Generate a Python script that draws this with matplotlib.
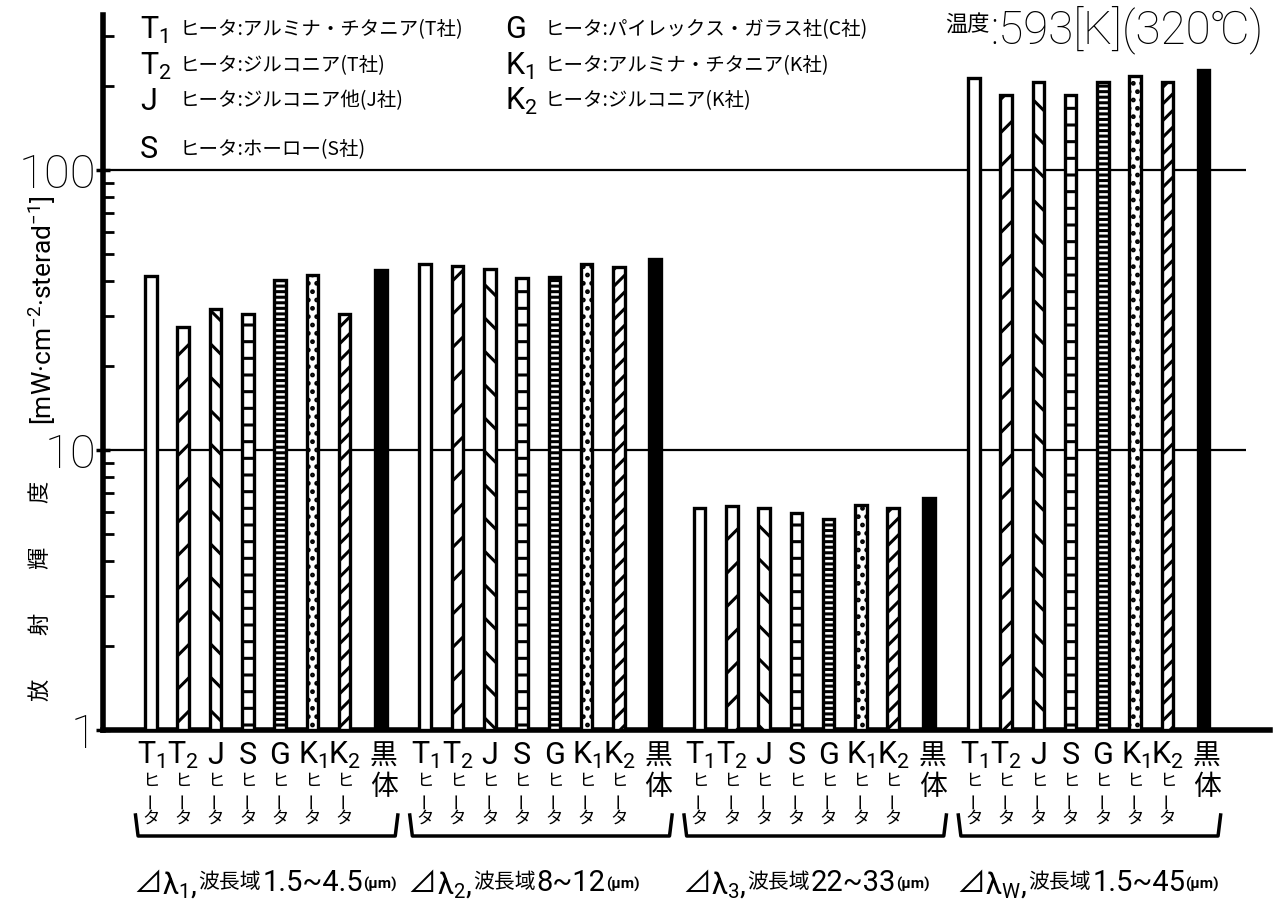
import matplotlib
matplotlib.use('Agg')
import matplotlib.pyplot as plt
import matplotlib.transforms as mtransforms
from matplotlib.ticker import LogLocator, FixedLocator, NullFormatter, FixedFormatter

plt.rcParams['mathtext.fontset'] = 'custom'
plt.rcParams['mathtext.rm'] = 'Roboto'
plt.rcParams['mathtext.it'] = 'Roboto'
plt.rcParams['mathtext.bf'] = 'Roboto:bold'
plt.rcParams['hatch.linewidth'] = 2.2
plt.rcParams['font.family'] = ['Roboto', 'Noto Sans CJK JP', 'DejaVu Sans']

LAT = ['Roboto', 'Noto Sans CJK JP', 'DejaVu Sans']
JP = ['Noto Sans CJK JP', 'DejaVu Sans']

# ---------------- data ----------------
heater_codes = ['T$_1$', 'T$_2$', 'J', 'S', 'G', 'K$_1$', 'K$_2$']
heater_desc = ['ヒータ:アルミナ・チタニア(T社)', 'ヒータ:ジルコニア(T社)',
               'ヒータ:ジルコニア他(J社)', 'ヒータ:ホーロー(S社)',
               'ヒータ:パイレックス・ガラス社(C社)', 'ヒータ:アルミナ・チタニア(K社)',
               'ヒータ:ジルコニア(K社)']
heater_word = ['ヒ', 'ー', 'タ']
blackbody_word = ['黒', '体']
band_subs = ['1', '2', '3', 'W']
band_ranges = ['1.5~4.5', '8~12', '22~33', '1.5~45']
band_unit = '(μm)'
band_word = '波長域'
temp_label = '温度'
temp_value = ':593[K](320℃)'
ylabel_unit = '[mW·cm$^{-2}$·sterad$^{-1}$]'
ylabel_chars = ['放', '射', '輝', '度']

vals_band1 = [41.7, 27.5, 32.0, 30.7, 40.6, 42.3, 30.7, 44.1]
vals_band2 = [46.0, 45.6, 44.5, 41.0, 41.4, 46.0, 45.2, 48.3]
vals_band3 = [6.22, 6.32, 6.22, 5.97, 5.68, 6.37, 6.22, 6.75]
vals_band4 = [214, 186, 207, 186, 207, 217, 207, 228]
all_vals = [vals_band1, vals_band2, vals_band3, vals_band4]

yticks = [1, 10, 100]
ytick_labels = ['1', '10', '100']

# ---------------- styles ----------------
hatches = ['', '/', '\\', '-', '---', '..', '//', '']
faces = ['white'] * 7 + ['black']
in_group = [0, 1, 2, 3, 4, 5, 6, 7.12]
group_step = 8.5
bar_w = 0.36

W, H = 1274, 899
fig = plt.figure(figsize=(W / 100, H / 100), dpi=100)
ax = fig.add_axes([103 / W, (H - 730) / H, (1270 - 103) / W, (730 - 15) / H])
ax.set_yscale('log')
ax.set_xlim(-1.487, 34.68)
ax.set_ylim(1, 358)

for g, vals in enumerate(all_vals):
    for i, v in enumerate(vals):
        x = g * group_step + in_group[i]
        ax.bar(x, v - 1, bottom=1, width=bar_w, color=faces[i], edgecolor='black',
               linewidth=2.4, hatch=hatches[i], zorder=3)

ax.hlines(yticks[1:], -1.487, 33.93, color='black', lw=1.6, zorder=2)

for s in ['top', 'right']:
    ax.spines[s].set_visible(False)
ax.spines['left'].set_linewidth(4)
ax.spines['bottom'].set_linewidth(4)
ax.set_xticks([])
ax.yaxis.set_major_locator(FixedLocator(yticks))
ax.yaxis.set_major_formatter(FixedFormatter(ytick_labels))
ax.yaxis.set_minor_locator(LogLocator(base=10, subs=range(2, 10)))
ax.yaxis.set_minor_formatter(NullFormatter())
ax.tick_params(axis='y', which='major', direction='inout', length=10, width=2.5, pad=0,
               labelsize=34)
ax.tick_params(axis='y', which='minor', direction='in', length=8, width=2)
for lab in ax.get_yticklabels():
    lab.set_fontweight('light')
    lab.set_family(LAT)

trans = mtransforms.blended_transform_factory(ax.transData, fig.transFigure)


def fy(px):
    return 1 - px / H


# bar labels under axis
for g in range(len(all_vals)):
    for i in range(8):
        x = g * group_step + in_group[i]
        if i < 7:
            ax.text(x, fy(755), heater_codes[i], transform=trans, ha='center', va='center',
                    fontsize=22, family=LAT, clip_on=False)
            ax.text(x, fy(781), heater_word[0], transform=trans, ha='center', va='center',
                    fontsize=12.5, family=JP, clip_on=False)
            ax.text(x, fy(800), heater_word[1], transform=trans, ha='center', va='center',
                    fontsize=12.5, family=JP, rotation=90, clip_on=False)
            ax.text(x, fy(819), heater_word[2], transform=trans, ha='center', va='center',
                    fontsize=12.5, family=JP, clip_on=False)
        else:
            ax.text(x + 0.1, fy(757), blackbody_word[0], transform=trans, ha='center',
                    va='center', fontsize=20, family=JP, clip_on=False)
            ax.text(x + 0.1, fy(787), blackbody_word[1], transform=trans, ha='center',
                    va='center', fontsize=20, family=JP, clip_on=False)
    x0 = g * group_step - 0.4
    x1 = g * group_step + in_group[-1] + 0.45
    ax.plot([x0 - 0.08, x0, x1, x1 + 0.08], [fy(815), fy(836), fy(836), fy(815)],
            transform=trans, color='black', lw=2.5, clip_on=False, solid_joinstyle='round')

    # band label
    t0 = ax.text(g * group_step - 0.55, fy(884), '⊿', transform=trans, ha='left',
                 va='center', fontsize=21, family=JP, clip_on=False)
    t1 = ax.annotate('λ$_{%s}$,' % band_subs[g], xy=(1, 0.45), xycoords=t0, ha='left',
                     va='center', fontsize=21, family=LAT)
    t2 = ax.annotate(band_word, xy=(1.03, 0.6), xycoords=t1, ha='left', va='center',
                     fontsize=15, family=JP)
    t3 = ax.annotate(band_ranges[g], xy=(1.02, 0.45), xycoords=t2, ha='left', va='center',
                     fontsize=21, family=LAT)
    t4 = ax.annotate(band_unit, xy=(1, 0.45), xycoords=t3, ha='left', va='center',
                     fontsize=11, family=LAT, fontweight='bold')

# legend block
leg_x = [(140, 180), (505, 545)]
leg_rows = [30, 66, 101, 150, 30, 66, 101]
for k in range(7):
    col = 0 if k < 4 else 1
    sx, tx = leg_x[col]
    fig.text(sx / W, fy(leg_rows[k]), heater_codes[k], ha='left', va='center',
             fontsize=22, family=LAT)
    fig.text(tx / W, fy(leg_rows[k]), heater_desc[k], ha='left', va='center',
             fontsize=14, family=JP)

# temperature
fig.text(945 / W, fy(24), temp_label, ha='left', va='center', fontsize=16, family=JP)
fig.text(990 / W, fy(30), temp_value, ha='left', va='center', fontsize=33, family=LAT,
         fontweight='light')

# y labels
fig.text(42 / W, fy(310), ylabel_unit, rotation=90, ha='center', va='center',
         fontsize=19, family=LAT)
for k, ch in enumerate(ylabel_chars):
    fig.text(40 / W, fy(690 - 66 * k), ch, rotation=90, ha='center', va='center',
             fontsize=16, family=JP)

fig.savefig('out.png', dpi=100)
